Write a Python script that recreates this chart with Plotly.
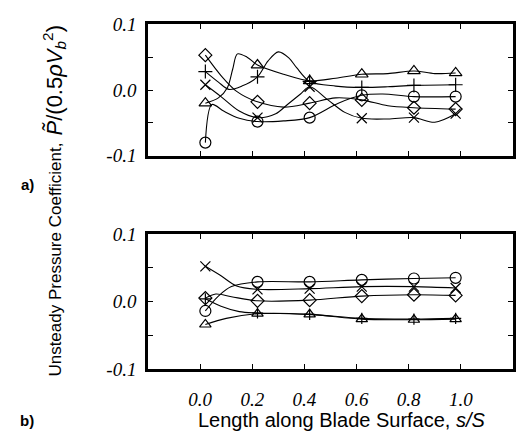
import plotly.graph_objects as go

# ---------------- data ----------------
s = [0.02, 0.22, 0.42, 0.62, 0.82, 0.98]

# panel a) marker values at stations
a_diamond = [0.053, -0.018, -0.020, -0.015, -0.027, -0.029]
a_triangle = [-0.020, 0.038, 0.014, 0.024, 0.029, 0.026]
a_plus = [0.028, 0.020, 0.013, 0.004, 0.007, 0.008]
a_x = [0.008, -0.042, 0.005, -0.043, -0.042, -0.036]
a_circle = [-0.080, -0.048, -0.042, -0.008, -0.010, -0.010]

# panel a) curve traces
a_diamond_cs = [0.02, 0.08, 0.14, 0.22, 0.32, 0.42, 0.52, 0.62, 0.72, 0.82, 0.98]
a_diamond_cp = [0.053, 0.022, -0.002, -0.018, -0.026, -0.020, -0.012, -0.015, -0.024, -0.027, -0.029]
a_triangle_cs = [0.02, 0.07, 0.105, 0.125, 0.143, 0.18, 0.22, 0.32, 0.42, 0.52, 0.62, 0.72, 0.82, 0.90, 0.98]
a_triangle_cp = [-0.020, -0.012, 0.004, 0.032, 0.055, 0.050, 0.038, 0.024, 0.014, 0.018, 0.024, 0.025, 0.029, 0.025, 0.026]
a_plus_cs = [0.02, 0.07, 0.11, 0.16, 0.22, 0.26, 0.30, 0.34, 0.37, 0.42, 0.52, 0.62, 0.72, 0.82, 0.98]
a_plus_cp = [0.028, 0.012, 0.001, 0.006, 0.020, 0.044, 0.058, 0.049, 0.034, 0.013, 0.006, 0.004, 0.005, 0.007, 0.008]
a_x_cs = [0.02, 0.08, 0.15, 0.22, 0.29, 0.335, 0.385, 0.42, 0.49, 0.555, 0.62, 0.72, 0.82, 0.90, 0.98]
a_x_cp = [0.008, -0.010, -0.032, -0.042, -0.036, -0.022, -0.006, 0.005, -0.015, -0.034, -0.043, -0.044, -0.042, -0.049, -0.036]
a_circle_cs = [0.02, 0.045, 0.09, 0.15, 0.22, 0.32, 0.42, 0.53, 0.62, 0.70, 0.82, 0.98]
a_circle_cp = [-0.080, -0.022, -0.032, -0.043, -0.048, -0.047, -0.042, -0.020, -0.008, -0.006, -0.010, -0.010]

# panel b) marker values at stations
b_x = [0.052, 0.018, 0.019, 0.022, 0.022, 0.020]
b_circle = [-0.014, 0.029, 0.029, 0.032, 0.034, 0.035]
b_diamond = [0.005, 0.001, 0.002, 0.008, 0.010, 0.009]
b_triangle = [-0.034, -0.018, -0.019, -0.026, -0.027, -0.026]
b_plus = [0.004, -0.017, -0.019, -0.025, -0.026, -0.025]

# panel b) curve traces
b_x_cs = [0.02, 0.08, 0.14, 0.22, 0.42, 0.62, 0.82, 0.98]
b_x_cp = [0.052, 0.038, 0.023, 0.018, 0.019, 0.022, 0.022, 0.020]
b_circle_cs = [0.02, 0.07, 0.12, 0.22, 0.42, 0.62, 0.82, 0.98]
b_circle_cp = [-0.014, 0.008, 0.022, 0.029, 0.029, 0.032, 0.034, 0.035]
b_diamond_cs = [0.02, 0.06, 0.12, 0.22, 0.42, 0.62, 0.82, 0.98]
b_diamond_cp = [0.005, 0.011, 0.007, 0.001, 0.002, 0.008, 0.010, 0.009]
b_triangle_cs = [0.02, 0.10, 0.22, 0.42, 0.62, 0.82, 0.98]
b_triangle_cp = [-0.034, -0.025, -0.018, -0.019, -0.026, -0.027, -0.026]
b_plus_cs = [0.02, 0.08, 0.15, 0.22, 0.42, 0.62, 0.82, 0.98]
b_plus_cp = [0.004, -0.007, -0.015, -0.017, -0.019, -0.025, -0.026, -0.025]

x_ticks = [0.0, 0.2, 0.4, 0.6, 0.8, 1.0]
x_ticktext = ["0.0", "0.2", "0.4", "0.6", "0.8", "1.0"]
y_ticks = [-0.1, -0.05, 0.0, 0.05, 0.1]
y_ticktext = ["-0.1", "", "0.0", "", "0.1"]

# ---------------- figure ----------------
fig = go.Figure()

def add_series(cs, cp, ms, mp, symbol, size, xa, ya):
    fig.add_trace(go.Scatter(x=cs, y=cp, mode="lines",
                             line=dict(color="black", width=1.1, shape="spline", smoothing=0.9),
                             xaxis=xa, yaxis=ya, showlegend=False, hoverinfo="skip"))
    fig.add_trace(go.Scatter(x=ms, y=mp, mode="markers",
                             marker=dict(symbol=symbol, size=size, color="black",
                                         line=dict(color="black", width=1.2)),
                             xaxis=xa, yaxis=ya, showlegend=False))

add_series(a_diamond_cs, a_diamond_cp, s, a_diamond, "diamond-open", 10, "x", "y")
add_series(a_triangle_cs, a_triangle_cp, s, a_triangle, "triangle-up-open", 11, "x", "y")
add_series(a_plus_cs, a_plus_cp, s, a_plus, "cross-thin-open", 10, "x", "y")
add_series(a_x_cs, a_x_cp, s, a_x, "x-thin-open", 10, "x", "y")
add_series(a_circle_cs, a_circle_cp, s, a_circle, "circle-open", 11, "x", "y")

add_series(b_x_cs, b_x_cp, s, b_x, "x-thin-open", 10, "x2", "y2")
add_series(b_circle_cs, b_circle_cp, s, b_circle, "circle-open", 11, "x2", "y2")
add_series(b_diamond_cs, b_diamond_cp, s, b_diamond, "diamond-open", 10, "x2", "y2")
add_series(b_triangle_cs, b_triangle_cp, s, b_triangle, "triangle-up-open", 10, "x2", "y2")
add_series(b_plus_cs, b_plus_cp, s, b_plus, "cross-thin-open", 8, "x2", "y2")

W, H = 517, 443
xdom = [148 / W, 513 / W]
ydom_a = [1 - 153 / H, 1 - 15 / H]
ydom_b = [1 - 377 / H, 1 - 235 / H]

tickfont = dict(family="Liberation Serif", size=19, color="black")
common_x = dict(range=[-0.2, 1.2], tickvals=x_ticks, showline=True, linecolor="black",
                linewidth=2.5, mirror="ticks", ticks="inside", ticklen=5, tickwidth=1,
                tickcolor="black", showgrid=False, zeroline=False, domain=xdom,
                tickfont=tickfont)
common_y = dict(range=[-0.1, 0.1], tickvals=y_ticks,
                ticktext=["<i>%s</i>" % t if t else "" for t in y_ticktext],
                showline=True, linecolor="black", linewidth=2.5, mirror="ticks",
                ticks="inside", ticklen=5, tickwidth=1, tickcolor="black",
                showgrid=False, zeroline=False, tickfont=tickfont, ticklabelstandoff=5)

fig.update_layout(
    width=W, height=H,
    margin=dict(l=0, r=0, t=0, b=0),
    paper_bgcolor="white", plot_bgcolor="white",
    xaxis=dict(common_x, anchor="y", showticklabels=False),
    yaxis=dict(common_y, domain=ydom_a, anchor="x"),
    xaxis2=dict(common_x, anchor="y2", showticklabels=True,
                ticktext=["<i>%s</i>" % t for t in x_ticktext], ticklabelstandoff=11),
    yaxis2=dict(common_y, domain=ydom_b, anchor="x2"),
    annotations=[
        dict(text="Length along Blade Surface, <i>s/S</i>", x=342 / W, y=1 - 430 / H,
             xref="paper", yref="paper", xanchor="center", yanchor="middle", showarrow=False,
             font=dict(family="Liberation Sans", size=20, color="black")),
        dict(text="Unsteady Pressure Coefficient,",
             x=56 / W, y=1 - 262 / H, xref="paper", yref="paper", xanchor="center",
             yanchor="middle", showarrow=False,
             textangle=-90, font=dict(family="Liberation Sans", size=17, color="black")),
        dict(text="<i>P̃</i>/(0.5<i>ρV</i><sub><i>b</i></sub><sup>2</sup>)",
             x=54 / W, y=1 - 74 / H, xref="paper", yref="paper", xanchor="center",
             yanchor="middle", showarrow=False,
             textangle=-90, font=dict(family="Liberation Sans", size=22, color="black")),
        dict(text="<b>a)</b>", x=27 / W, y=1 - 183 / H, xref="paper", yref="paper",
             xanchor="center", yanchor="middle",
             showarrow=False, font=dict(family="Liberation Sans", size=15, color="black")),
        dict(text="<b>b)</b>", x=27 / W, y=1 - 431 / H, xref="paper", yref="paper",
             xanchor="center", yanchor="middle",
             showarrow=False, font=dict(family="Liberation Sans", size=15, color="black")),
    ],
)

fig.write_html("out.html")
